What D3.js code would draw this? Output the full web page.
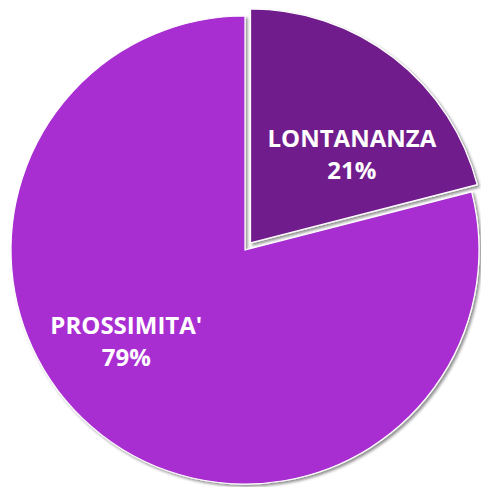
<!DOCTYPE html>
<html><head><meta charset="utf-8">
<script src="https://cdn.jsdelivr.net/npm/d3@7"></script>
<style>html,body{margin:0;padding:0;background:#fff;}svg{display:block;}</style>
</head><body>
<script>
const categories = ["LONTANANZA", "PROSSIMITA'"];
const values = [21, 79];
const colors = ["#711E8C", "#A92FD2"];
const exploded = [true, false];

const W = 481, H = 487, cx = 245, cy = 250, R = 234, explode = 9;
const svg = d3.select("body").append("svg").attr("width", W).attr("height", H);
const defs = svg.append("defs");
const f = defs.append("filter").attr("id", "sh").attr("x", "-10%").attr("y", "-10%").attr("width", "120%").attr("height", "120%");
f.append("feGaussianBlur").attr("in", "SourceAlpha").attr("stdDeviation", 1.5);
f.append("feOffset").attr("dx", 1.5).attr("dy", 1.5).attr("result", "o");
f.append("feComponentTransfer").append("feFuncA").attr("type", "linear").attr("slope", 0.45);
const m = f.append("feMerge"); m.append("feMergeNode"); m.append("feMergeNode").attr("in", "SourceGraphic");

const pie = d3.pie().sort(null).value(d => d)(values);
const arc = d3.arc().innerRadius(0).outerRadius(R);
const g = svg.append("g").attr("transform", `translate(${cx},${cy})`);

// label placement (polar, relative to slice mid-angle)
const labelShift = [14 * Math.PI / 180, 12.2 * Math.PI / 180];
const labelRadius = [129, 155];

pie.forEach((p, i) => {
  const mid = (p.startAngle + p.endAngle) / 2;
  const off = exploded[i] ? explode : 0;
  const gx = Math.sin(mid) * off, gy = -Math.cos(mid) * off;
  const sg = g.append("g").attr("transform", `translate(${gx},${gy})`);
  sg.append("path").attr("d", arc(p)).attr("fill", colors[i])
    .attr("stroke", "#fff").attr("stroke-width", 1.2).attr("filter", "url(#sh)");
  const a = mid + labelShift[i];
  const lx = Math.sin(a) * labelRadius[i], ly = -Math.cos(a) * labelRadius[i];
  const t = sg.append("text").attr("text-anchor", "middle")
    .attr("font-family", "'Open Sans', sans-serif").attr("font-weight", "bold")
    .attr("font-size", 24).attr("fill", "#fff");
  t.append("tspan").attr("x", lx).attr("y", ly - 16).text(categories[i]);
  t.append("tspan").attr("x", lx).attr("y", ly + 16).text(values[i] + "%");
});
</script>
</body></html>
